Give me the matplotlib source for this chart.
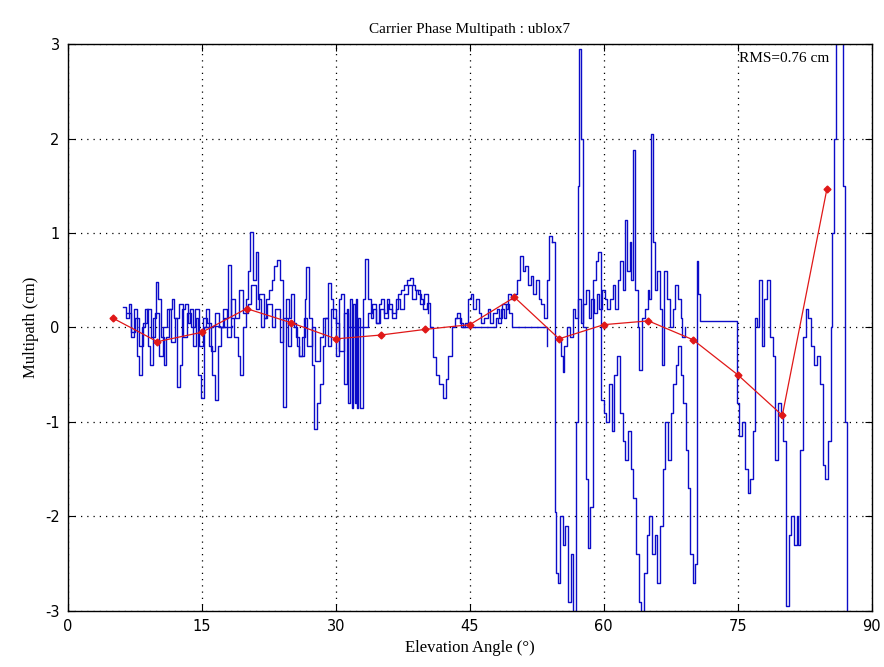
import numpy as np
import matplotlib
matplotlib.use("Agg")
import matplotlib.pyplot as plt

# binned mean multipath (red)
bin_elev = [5, 10, 15, 20, 25, 30, 35, 40, 45, 50, 55, 60, 65, 70, 75, 80, 85]
bin_mp = [0.10, -0.15, -0.05, 0.20, 0.05, -0.12, -0.08, -0.02, 0.03, 0.32,
          -0.12, 0.03, 0.07, -0.13, -0.50, -0.93, 1.47]

# low elevation arc
arc1_elev = [6.2, 6.5, 6.8, 7.1, 7.4, 7.7, 8.0, 8.3, 8.6, 8.9, 9.2, 9.5, 9.8, 10.1,
             10.4, 10.7, 11.0, 11.3, 11.6, 11.9, 12.2, 12.5, 12.8, 13.1, 13.4, 13.7,
             14.0, 14.3, 14.6, 14.9, 15.2, 15.5, 15.8, 16.1, 16.5, 16.8, 17.1, 17.5,
             17.9, 18.2, 18.6, 19.0, 19.3, 19.6, 19.9, 20.2, 20.4, 20.7, 21.0, 21.3,
             21.6, 21.9, 22.2, 22.5, 22.8, 23.1, 23.4, 23.7, 24.1, 24.4, 24.7, 25.0,
             25.3, 25.6, 25.9, 26.2, 26.5, 26.7, 27.0, 27.3, 27.6, 27.9, 28.2, 28.5,
             28.8, 29.1, 29.4, 29.7, 30.0, 30.3, 30.6, 30.9, 31.2, 31.4, 31.6, 31.8,
             31.9, 32.1, 32.2, 32.4, 32.5, 32.7, 33.0, 33.3, 33.6, 33.9, 34.2, 34.5,
             34.8, 35.1, 35.4, 35.7, 36.0, 36.3, 36.7, 37.0, 37.3, 37.6, 38.0, 38.3,
             38.6, 38.9, 39.2, 39.5, 39.8, 40.2, 40.5, 40.9, 41.2, 41.6, 42.0, 42.3,
             42.6, 43.0, 43.3, 43.6, 43.9, 44.2, 44.5, 44.8, 45.1, 45.4, 45.7, 46.0,
             46.3, 46.6, 47.0, 47.3, 47.6, 48.0, 48.3, 48.6, 49.0, 49.3, 49.6, 50.0,
             50.3, 50.6, 50.9, 51.2, 51.5, 51.8, 52.1, 52.4, 52.7, 53.0, 53.3, 53.6,
             53.9, 54.2]
arc1_mp = [0.22, 0.10, 0.25, -0.10, 0.20, -0.30, -0.50, 0.00, 0.20, -0.20, -0.40, 0.10,
           0.48, 0.30, -0.10, -0.40, -0.10, 0.20, 0.30, 0.10, -0.63, -0.40, 0.20, 0.25,
           0.05, 0.20, -0.20, 0.10, -0.50, -0.75, 0.00, 0.20, -0.20, -0.50, -0.77, -0.20,
           0.00, 0.10, 0.66, 0.10, -0.10, -0.30, -0.50, 0.00, 0.30, 0.60, 1.01, 0.50,
           0.80, 0.30, 0.00, 0.10, 0.30, 0.40, 0.50, 0.65, 0.71, 0.50, -0.84, 0.30,
           0.10, 0.35, 0.00, -0.20, -0.30, -0.10, 0.30, 0.64, 0.10, -0.40, -1.07, -0.80,
           -0.60, -0.20, 0.10, 0.47, 0.30, 0.10, -0.30, 0.30, 0.35, -0.60, 0.20, -0.80,
           0.30, -0.85, 0.25, -0.80, 0.30, -0.85, 0.10, -0.85, 0.30, 0.73, 0.30, 0.10,
           0.20, 0.05, 0.25, 0.30, 0.15, 0.30, 0.20, 0.10, 0.20, 0.35, 0.40, 0.45,
           0.50, 0.52, 0.45, 0.40, 0.35, 0.30, 0.20, 0.26, 0.00, -0.31, -0.50, -0.60,
           -0.75, -0.55, -0.30, 0.00, 0.10, 0.15, 0.05, 0.00, 0.05, 0.30, 0.35, 0.20,
           0.30, 0.15, 0.05, 0.10, 0.20, 0.05, 0.15, 0.20, 0.10, 0.25, 0.20, 0.35,
           0.30, 0.35, 0.50, 0.76, 0.60, 0.65, 0.45, 0.55, 0.35, 0.50, 0.30, 0.25,
           0.10, 0.50, 0.97, 0.90]

# overlapping low elevation arc, smaller swing
arc5_elev = [6.6, 7.0, 7.5, 7.9, 8.4, 8.8, 9.3, 9.7, 10.2, 10.6, 11.1, 11.5, 12.0,
             12.4, 12.9, 13.3, 13.8, 14.2, 14.7, 15.1, 15.6, 16.0, 16.5, 16.9, 17.4,
             17.8, 18.3, 18.7, 19.2, 19.6, 20.1, 20.5, 21.0, 21.4, 21.9, 22.3, 22.8,
             23.2, 23.7, 24.1, 24.6, 25.0, 25.5, 25.9, 26.4, 26.8, 27.3, 27.7, 28.2,
             28.6, 29.1, 29.5, 30.0, 30.4, 30.9, 31.3, 33.6, 34.0, 34.5, 34.9, 35.4,
             35.8, 36.3, 36.7, 37.2, 37.6, 38.1, 38.5, 39.0, 39.4, 39.9, 40.3]
arc5_mp = [0.15, -0.05, 0.10, -0.20, 0.05, 0.20, -0.10, 0.15, -0.30, 0.00, 0.20, -0.15,
           0.10, 0.25, -0.10, 0.15, 0.00, 0.20, -0.20, 0.10, 0.05, -0.25, 0.15, 0.00,
           0.20, -0.10, 0.30, 0.10, 0.40, 0.15, 0.25, 0.45, 0.20, 0.35, 0.10, 0.25,
           0.00, 0.20, -0.15, 0.10, -0.20, 0.05, -0.10, -0.30, 0.10, -0.20, 0.00, -0.35,
           -0.10, 0.10, -0.20, 0.20, 0.05, -0.25, 0.15, 0.00, 0.15, 0.25, 0.05, 0.20,
           0.10, 0.25, 0.15, 0.30, 0.20, 0.35, 0.45, 0.30, 0.40, 0.25, 0.35, 0.15]

# second arc, plunging between 54 and 88 deg
arc2_elev = [54.2, 54.5, 54.7, 54.9, 55.1, 55.4, 55.7, 56.0, 56.3, 56.6, 56.9, 57.1,
             57.2, 57.5, 57.7, 58.0, 58.2, 58.5, 58.8, 59.1, 59.4, 59.7, 60.0, 60.3,
             60.6, 60.9, 61.2, 61.5, 61.8, 62.1, 62.4, 62.7, 63.0, 63.3, 63.6, 63.9,
             64.2, 64.5, 64.8, 65.1, 65.4, 65.7, 66.0, 66.3, 66.6, 66.9, 67.2, 67.5,
             67.8, 68.1, 68.3, 68.6, 68.9, 69.2, 69.4, 69.7, 70.0, 70.2, 70.4, 70.6,
             70.8, 74.7, 74.9, 75.2, 75.5, 75.8, 76.1, 76.4, 76.7, 76.9, 77.2, 77.4,
             77.7, 78.0, 78.3, 78.6, 78.9, 79.2, 79.5, 79.8, 80.1, 80.4, 80.7, 81.0,
             81.3, 81.6, 81.8, 82.0, 82.3, 82.6, 82.9, 83.2, 83.5, 83.9, 84.2, 84.5,
             84.8, 85.1, 85.4, 85.6, 85.8, 86.0, 86.6, 86.8, 87.0, 87.2]
arc2_mp = [0.90, -1.95, -2.60, -2.70, -2.00, -2.30, -2.10, -2.90, -2.40, -3.10, -1.00, 1.50,
           2.95, 2.00, 0.00, -1.60, -2.33, -1.90, 0.50, 0.70, 0.80, -0.77, -0.90, -1.00,
           -0.60, -1.10, -0.50, -0.30, -0.90, -1.20, -1.40, -1.10, -1.50, -1.80, -2.40, -2.90,
           -3.10, -2.60, -2.20, -2.00, -2.40, -2.20, -2.70, -2.10, -1.50, -1.00, -1.40, -0.90,
           -0.60, -0.40, -0.20, -0.50, -0.80, -1.30, -1.70, -2.40, -2.70, -2.50, 0.70, 0.35,
           0.07, 0.07, -0.80, -1.15, -1.00, -1.50, -1.75, -1.60, -1.10, 0.10, 0.00, 0.50,
           -0.20, 0.30, 0.50, -0.10, -0.30, -1.40, -0.80, -0.90, -1.20, -2.95, -2.20, -2.00,
           -2.30, -2.00, -2.30, -1.30, -0.10, 0.20, 0.10, -0.20, -0.40, -0.30, -0.60, -1.45,
           -1.60, -1.20, 0.00, 1.00, 2.00, 3.20, 3.20, 1.50, -1.00, -3.20]

# third arc, upper branch 55-70 deg
arc3_elev = [54.9, 55.2, 55.4, 55.6, 55.9, 56.2, 56.5, 56.8, 57.1, 57.4, 57.7, 58.0,
             58.3, 58.6, 58.9, 59.2, 59.5, 59.8, 60.1, 60.4, 60.7, 61.0, 61.3, 61.6,
             61.8, 62.1, 62.4, 62.6, 62.9, 63.1, 63.3, 63.5, 63.8, 64.0, 64.3, 64.6,
             64.9, 65.1, 65.3, 65.5, 65.7, 66.0, 66.3, 66.5, 66.8, 67.1, 67.4, 67.7,
             68.0, 68.3, 68.6, 68.8, 69.1]
arc3_mp = [-0.10, -0.30, -0.47, -0.20, 0.00, -0.10, 0.20, 0.10, 0.30, 0.05, 0.25, 0.40,
           0.10, 0.30, 0.15, 0.35, 0.20, 0.40, 0.30, 0.20, 0.30, 0.45, 0.20, 0.50,
           0.70, 0.40, 1.14, 0.60, 0.90, 0.50, 1.88, 0.40, 0.00, -0.45, 0.10, 0.20,
           0.40, 0.30, 2.05, 0.90, 0.40, 0.60, 0.20, -0.40, 0.60, 0.30, 0.00, 0.20,
           0.45, 0.30, 0.10, -0.10, 0.00]

# flat stretches near zero
arc4_elev = [15.3, 16.2, 17.0, 18.4, np.nan, 43.5, 44.0, 44.7, 47.6, 47.9, 48.2, 48.5,
             48.8, 49.1, 49.4, 49.7, 50.0, 53.3, 53.6]
arc4_mp = [0.00, 0.02, 0.00, 0.02, np.nan, 0.10, 0.00, 0.00, 0.00, 0.10, 0.05, 0.20,
           0.10, 0.25, 0.15, 0.00, 0.00, 0.00, -0.20]

rms_text = "RMS=0.76 cm"

plt.rcParams.update({
    "font.family": "serif",
    "font.serif": ["Liberation Serif", "DejaVu Serif"],
    "font.size": 11,
    "axes.unicode_minus": False,
})

fig = plt.figure(figsize=(8.84, 6.67), dpi=100)
ax = fig.add_axes([0.077, 0.084, 0.909, 0.850])

blue = "#0c0cc8"
for xs, ys in [(arc5_elev, arc5_mp), (arc1_elev, arc1_mp), (arc4_elev, arc4_mp),
               (arc3_elev, arc3_mp), (arc2_elev, arc2_mp)]:
    ax.plot(xs, ys, drawstyle="steps-post", color=blue, lw=1.0)

ax.plot(bin_elev, bin_mp, "-", color="#e01818", lw=0.9,
        marker="D", markersize=3.5, markerfacecolor="#e01818", markeredgecolor="#e01818")

ax.text(75.2, 2.85, rms_text, ha="left", va="center", fontsize=11)

ax.set_xlim(0, 90)
ax.set_ylim(-3, 3)
ax.set_xticks(np.arange(0, 91, 15))
ax.set_yticks(np.arange(-3, 4, 1))
ax.tick_params(direction="in", top=True, right=True, length=5, width=0.8,
               labelsize=11, pad=6)
for lab in ax.get_xticklabels() + ax.get_yticklabels():
    lab.set_family("DejaVu Sans")
    lab.set_fontsize(10.5)
ax.grid(True, linestyle=(0, (1, 4)), color="black", lw=0.9)
for s in ax.spines.values():
    s.set_linewidth(1.0)

ax.set_title("Carrier Phase Multipath : ublox7", fontsize=11, pad=8)
ax.set_xlabel("Elevation Angle (°)", fontsize=12, labelpad=4)
ax.set_ylabel("Multipath (cm)", fontsize=12, labelpad=4)

fig.savefig("out.png", dpi=100)
